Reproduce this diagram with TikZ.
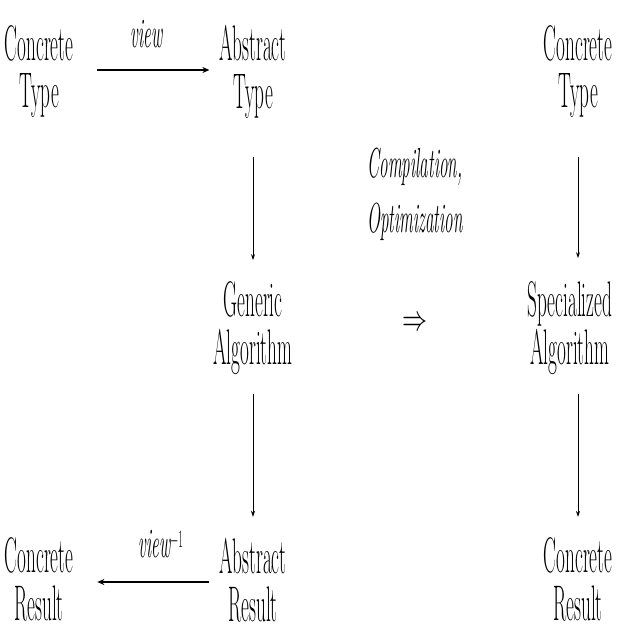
\documentclass[tikz,border=0pt]{standalone}
\usepackage{fontspec}
\usepackage{graphicx}
\usetikzlibrary{arrows.meta}

% two-line entry, set tall and narrow
\newcommand{\entry}[2]{\scalebox{0.385}[1]{\fontsize{50}{44}\selectfont\begin{tabular}{@{}c@{}}#1\\#2\end{tabular}}}
% italic labels
\newcommand{\lbl}[1]{\scalebox{0.41}[1]{\fontsize{42}{55}\selectfont\itshape #1}}

\tikzset{
  item/.style={inner sep=0pt, outer sep=0pt},
  mapto/.style={line width=2.2pt, -{Stealth[length=7pt,width=6pt]}},
  flow/.style={line width=0.8pt, -{Stealth[length=6pt,width=4pt]}},
}

\begin{document}
\begin{tikzpicture}[x=1pt,y=1pt]
  \useasboundingbox (0,0) rectangle (617,-630);
  \fill[white] (0,0) rectangle (617,-630);

  % left diagram
  \node[item] (ct) at (39,-73.5) {\entry{Concrete}{Type}};
  \node[item] (at) at (253,-73.5) {\entry{Abstract}{Type}};
  \node[item] (ga) at (253,-329.5) {\entry{Generic}{Algorithm}};
  \node[item] (ar) at (253,-586) {\entry{Abstract}{Result}};
  \node[item] (cr) at (39,-586) {\entry{Concrete}{Result}};

  % right diagram
  \node[item] (ct2) at (578,-73.5) {\entry{Concrete}{Type}};
  \node[item] (sa) at (570,-329.5) {\entry{Specialized}{Algorithm}};
  \node[item] (cr2) at (578,-586) {\entry{Concrete}{Result}};

  % middle
  \node[item] (comp) at (415,-193.5) {\scalebox{0.41}[1]{\fontsize{42}{55}\selectfont\itshape\begin{tabular}{@{}c@{}}Compilation,\\Optimization\end{tabular}}};
  \node[item] (impl) at (415,-324) {\scalebox{2.5}[3.6]{$\Rightarrow$}};

  % horizontal maps
  \draw[mapto, shorten <=24pt, shorten >=10pt] ([yshift=3.5pt]ct.east) -- ([yshift=3.5pt]at.west)
    node[pos=0.5, above=23pt, anchor=base] (v) {\lbl{view}};
  \draw[mapto, shorten <=10pt, shorten >=24pt] ([yshift=4pt]ar.west) -- ([yshift=4pt]cr.east)
    node[pos=0.4, above=25pt, anchor=base] (vi) {\lbl{view$^{-1}$}};

  % vertical flows
  \draw[flow, shorten <=36pt, shorten >=21pt] (at) -- (ga);
  \draw[flow, shorten <=16pt, shorten >=21pt] (ga) -- (ar);
  \draw[flow, shorten <=36pt, shorten >=23pt] (ct2) -- (sa.north -| ct2);
  \draw[flow, shorten <=16pt, shorten >=21pt] (sa.south -| cr2) -- (cr2);
\end{tikzpicture}
\end{document}
